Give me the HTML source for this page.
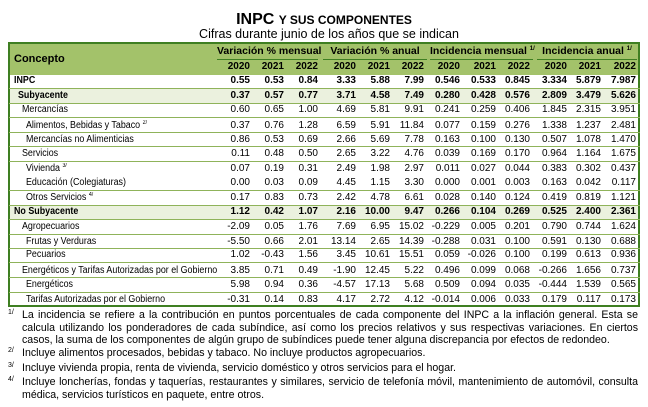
<!DOCTYPE html>
<html><head><meta charset="utf-8"><style>
body{margin:0;width:648px;height:407px;background:#fff;font-family:"Liberation Sans",Arial,sans-serif;color:#000;position:relative;overflow:hidden}
.a{position:absolute;white-space:nowrap}
.t{font-size:10px;line-height:12px}
.r{text-align:right;width:40px}
.b{font-weight:bold}
.lb{transform:scaleX(0.89);transform-origin:0 50%}
.sp{position:relative;top:-4px;font-size:6px;line-height:0}
.ln{position:absolute;left:9px;width:631px;height:1px;background:#8fb35a}
.fn{position:absolute;left:22px;width:616px;font-size:10.6px;line-height:12.6px;text-align:justify}
.sup{position:absolute;left:8px;font-size:7px}
</style></head><body>
<div class="a b" style="left:0;width:648px;text-align:center;top:11px;font-size:16px">INPC <span style="font-size:12px">Y SUS COMPONENTES</span></div>
<div class="a" style="left:0;width:648px;text-align:center;top:27px;font-size:12.5px;padding-left:10px;box-sizing:border-box">Cifras durante junio de los años que se indican</div>
<div class="a" style="left:8px;top:42px;width:631px;height:31px;background:#a3c26a;border-top:2px solid #3f7f22"></div>
<div class="a" style="left:8px;top:42px;width:2px;height:265px;background:#3f7f22"></div>
<div class="a" style="left:638px;top:42px;width:2px;height:265px;background:#3f7f22"></div>
<div class="a" style="left:8px;top:305px;width:632px;height:2px;background:#3f7f22"></div>
<div class="a" style="left:10px;top:89px;width:628px;height:14px;background:#ebf1de"></div>
<div class="a" style="left:10px;top:206px;width:628px;height:13px;background:#ebf1de"></div>
<div class="a b" style="left:14px;top:53px;font-size:11px">Concepto</div>
<div class="a b" style="left:217px;width:101px;text-align:center;top:45px;font-size:10.5px">Variación % mensual</div>
<div class="a b" style="left:323px;width:104px;text-align:center;top:45px;font-size:10.5px">Variación % anual</div>
<div class="a b" style="left:430px;width:103px;text-align:center;top:45px;font-size:10.5px">Incidencia mensual <span class="sp">1/</span></div>
<div class="a b" style="left:537px;width:100px;text-align:center;top:45px;font-size:10.5px">Incidencia anual <span class="sp">1/</span></div>
<div class="a" style="left:217px;top:59px;width:101px;height:1px;background:#3f7f22"></div>
<div class="a" style="left:323px;top:59px;width:104px;height:1px;background:#3f7f22"></div>
<div class="a" style="left:430px;top:59px;width:103px;height:1px;background:#3f7f22"></div>
<div class="a" style="left:537px;top:59px;width:100px;height:1px;background:#3f7f22"></div>
<div id="tb"></div>
<div class="ln" style="top:88px"></div><div class="ln" style="top:103px"></div><div class="ln" style="top:117px"></div><div class="ln" style="top:132px"></div><div class="ln" style="top:146px"></div><div class="ln" style="top:161px"></div><div class="ln" style="top:190px"></div><div class="ln" style="top:205px"></div><div class="ln" style="top:219px"></div><div class="ln" style="top:234px"></div><div class="ln" style="top:248px"></div><div class="ln" style="top:262px"></div><div class="ln" style="top:277px"></div><div class="ln" style="top:292px"></div>
<script>
var R=[250,284,318,356,390,424,460,496,530,567,601,636];
var yrs=["2020","2021","2022"];
var h='';
for(var i=0;i<12;i++)h+='<div class="a b t r" style="left:'+(R[i]-40)+'px;top:61px">'+yrs[i%3]+'</div>';
var rows=[
[81,14,1,"INPC","0.55 0.53 0.84 3.33 5.88 7.99 0.546 0.533 0.845 3.334 5.879 7.987"],
[96,18,1,"Subyacente","0.37 0.57 0.77 3.71 4.58 7.49 0.280 0.428 0.576 2.809 3.479 5.626"],
[110,22,0,"Mercancías","0.60 0.65 1.00 4.69 5.81 9.91 0.241 0.259 0.406 1.845 2.315 3.951"],
[126,26,0,"Alimentos, Bebidas y Tabaco <span class='sp'>2/</span>","0.37 0.76 1.28 6.59 5.91 11.84 0.077 0.159 0.276 1.338 1.237 2.481"],
[140,26,0,"Mercancías no Alimenticias","0.86 0.53 0.69 2.66 5.69 7.78 0.163 0.100 0.130 0.507 1.078 1.470"],
[154,22,0,"Servicios","0.11 0.48 0.50 2.65 3.22 4.76 0.039 0.169 0.170 0.964 1.164 1.675"],
[169,26,0,"Vivienda <span class='sp'>3/</span>","0.07 0.19 0.31 2.49 1.98 2.97 0.011 0.027 0.044 0.383 0.302 0.437"],
[183,26,0,"Educación (Colegiaturas)","0.00 0.03 0.09 4.45 1.15 3.30 0.000 0.001 0.003 0.163 0.042 0.117"],
[198,26,0,"Otros Servicios <span class='sp'>4/</span>","0.17 0.83 0.73 2.42 4.78 6.61 0.028 0.140 0.124 0.419 0.819 1.121"],
[212,14,1,"No Subyacente","1.12 0.42 1.07 2.16 10.00 9.47 0.266 0.104 0.269 0.525 2.400 2.361"],
[227,22,0,"Agropecuarios","-2.09 0.05 1.76 7.69 6.95 15.02 -0.229 0.005 0.201 0.790 0.744 1.624"],
[242,26,0,"Frutas y Verduras","-5.50 0.66 2.01 13.14 2.65 14.39 -0.288 0.031 0.100 0.591 0.130 0.688"],
[255,26,0,"Pecuarios","1.02 -0.43 1.56 3.45 10.61 15.51 0.059 -0.026 0.100 0.199 0.613 0.936"],
[271,22,0,"Energéticos y Tarifas Autorizadas por el Gobierno","3.85 0.71 0.49 -1.90 12.45 5.22 0.496 0.099 0.068 -0.266 1.656 0.737"],
[285,26,0,"Energéticos","5.98 0.94 0.36 -4.57 17.13 5.68 0.509 0.094 0.035 -0.444 1.539 0.565"],
[300,26,0,"Tarifas Autorizadas por el Gobierno","-0.31 0.14 0.83 4.17 2.72 4.12 -0.014 0.006 0.033 0.179 0.117 0.173"]];
rows.forEach(function(r){var y=r[0]-6,c=r[2]?' b':'';
h+='<div class="a t lb'+c+'" style="left:'+r[1]+'px;top:'+y+'px">'+r[3]+'</div>';
r[4].split(' ').forEach(function(v,i){h+='<div class="a t r'+c+'" style="left:'+(R[i]-40)+'px;top:'+y+'px">'+v+'</div>';});});
document.getElementById('tb').innerHTML=h;
</script>
<div class="sup" style="top:309px">1/</div>
<div class="fn" style="top:309px">La incidencia se refiere a la contribución en puntos porcentuales de cada componente del INPC a la inflación general. Esta se calcula utilizando los ponderadores de cada subíndice, así como los precios relativos y sus respectivas variaciones. En ciertos casos, la suma de los componentes de algún grupo de subíndices puede tener alguna discrepancia por efectos de redondeo.</div>
<div class="sup" style="top:347px">2/</div>
<div class="fn" style="top:347px">Incluye alimentos procesados, bebidas y tabaco. No incluye productos agropecuarios.</div>
<div class="sup" style="top:362px">3/</div>
<div class="fn" style="top:362px">Incluye vivienda propia, renta de vivienda, servicio doméstico y otros servicios para el hogar.</div>
<div class="sup" style="top:376px">4/</div>
<div class="fn" style="top:376px">Incluye loncherías, fondas y taquerías, restaurantes y similares, servicio de telefonía móvil, mantenimiento de automóvil, consulta médica, servicios turísticos en paquete, entre otros.</div>
</body></html>
